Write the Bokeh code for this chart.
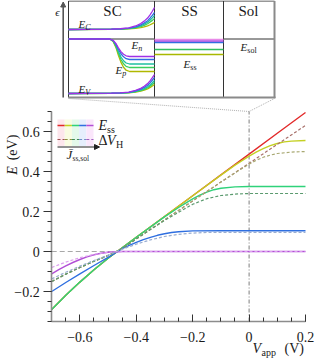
from bokeh.plotting import figure
from bokeh.models import Range1d, LinearAxis, FixedTicker, CustomJSTickFormatter, Arrow, NormalHead
from bokeh.core.properties import value
from bokeh.embed import file_html
from bokeh.resources import INLINE

# ---------------- main chart data ----------------
V_TICKS = [-0.6, -0.4, -0.2, 0.0, 0.2]
V_MINOR = [-0.7, -0.65, -0.6, -0.55, -0.5, -0.45, -0.4, -0.35, -0.3, -0.25, -0.2,
           -0.15, -0.1, -0.05, 0.0, 0.05, 0.1, 0.15, 0.2]
E_TICKS = [-0.2, 0.0, 0.2, 0.4, 0.6]
E_MINOR = [-0.35, -0.3, -0.25, -0.2, -0.15, -0.1, -0.05, 0.0, 0.05, 0.1, 0.15, 0.2,
           0.25, 0.3, 0.35, 0.4, 0.45, 0.5, 0.55, 0.6, 0.65, 0.7]

# solid: E_ss
red_v = [-0.70, -0.65, -0.60, -0.55, -0.50, -0.45, -0.40, -0.30, -0.20, -0.10, 0.00, 0.10, 0.20]
red_e = [-0.290, -0.219, -0.153, -0.091, -0.034, 0.019, 0.071, 0.175, 0.279, 0.383, 0.487, 0.591, 0.695]

yel_v = [-0.70, -0.65, -0.60, -0.55, -0.50, -0.45, -0.40, -0.30, -0.20, -0.10, -0.05, 0.00,
         0.025, 0.05, 0.075, 0.10, 0.125, 0.15, 0.20]
yel_e = [-0.290, -0.219, -0.153, -0.091, -0.034, 0.019, 0.071, 0.175, 0.279, 0.382, 0.432, 0.477,
         0.497, 0.514, 0.529, 0.540, 0.548, 0.552, 0.555]

grn_v = [-0.70, -0.65, -0.60, -0.55, -0.50, -0.45, -0.40, -0.30, -0.25, -0.225, -0.20, -0.175,
         -0.15, -0.125, -0.10, -0.05, 0.00, 0.20]
grn_e = [-0.290, -0.219, -0.153, -0.091, -0.034, 0.019, 0.071, 0.173, 0.220, 0.242, 0.263, 0.282,
         0.297, 0.309, 0.316, 0.323, 0.325, 0.325]

blu_v = [-0.70, -0.65, -0.60, -0.55, -0.50, -0.45, -0.425, -0.40, -0.375, -0.35, -0.325, -0.30,
         -0.275, -0.25, -0.20, -0.10, 0.20]
blu_e = [-0.200, -0.155, -0.112, -0.070, -0.029, 0.014, 0.031, 0.046, 0.059, 0.071, 0.081, 0.089,
         0.095, 0.099, 0.103, 0.104, 0.104]

mag_v = [-0.70, -0.675, -0.65, -0.625, -0.60, -0.575, -0.55, -0.525, -0.50, -0.45, 0.20]
mag_e = [-0.112, -0.091, -0.072, -0.055, -0.040, -0.027, -0.017, -0.009, -0.004, 0.0, 0.0]

# dashed: ΔV_H
redd_v = [-0.70, -0.65, -0.60, -0.55, -0.50, -0.45, -0.40, -0.30, -0.20, -0.10, 0.00, 0.10, 0.20]
redd_e = [-0.150, -0.113, -0.080, -0.049, -0.020, 0.015, 0.063, 0.158, 0.253, 0.347, 0.441, 0.536, 0.630]

yeld_v = [-0.70, -0.65, -0.60, -0.55, -0.50, -0.45, -0.40, -0.30, -0.20, -0.10, -0.05, 0.00,
          0.025, 0.05, 0.075, 0.10, 0.15, 0.20]
yeld_e = [-0.150, -0.113, -0.080, -0.049, -0.020, 0.015, 0.063, 0.158, 0.253, 0.347, 0.393, 0.437,
          0.456, 0.471, 0.482, 0.490, 0.497, 0.500]

grnd_v = [-0.70, -0.65, -0.60, -0.55, -0.50, -0.45, -0.40, -0.35, -0.30, -0.25, -0.20, -0.15,
          -0.10, -0.05, 0.00, 0.20]
grnd_e = [-0.150, -0.113, -0.080, -0.049, -0.020, 0.015, 0.063, 0.110, 0.155, 0.196, 0.236, 0.264,
          0.280, 0.287, 0.290, 0.290]

blud_v = [-0.70, -0.65, -0.60, -0.55, -0.50, -0.45, -0.40, -0.35, -0.30, -0.25, -0.20, -0.15, -0.10, 0.20]
blud_e = [-0.137, -0.104, -0.073, -0.045, -0.018, 0.011, 0.037, 0.058, 0.075, 0.086, 0.092, 0.095, 0.096, 0.096]

magd_v = [-0.70, -0.65, -0.60, -0.55, -0.50, -0.45, 0.20]
magd_e = [-0.080, -0.053, -0.031, -0.014, -0.004, 0.0, 0.0]

SOLID_COLORS = ["#e22a2a", "#c4d022", "#2fd27a", "#2f6fe0", "#b24fd6"]
DASH_COLORS = ["#a8706a", "#a8a872", "#5a9a6e", "#9aaed2", "#dca0ee"]

# ---------------- inset (band diagram schematic) data ----------------
BEND_F = [0.0, 0.50, 0.60, 0.70, 0.78, 0.84, 0.88, 0.92, 0.95, 0.975, 1.0]
BEND_P = [0.0, 0.02, 0.035, 0.075, 0.16, 0.27, 0.38, 0.52, 0.68, 0.83, 1.0]
QF_F = [0.0, 0.48, 0.52, 0.55, 0.58, 0.61, 0.64, 0.67, 0.71, 1.0]
QF_P = [0.0, 0.0, 0.08, 0.25, 0.50, 0.72, 0.87, 0.96, 1.0, 1.0]
INSET_COLORS = ["#b0b800", "#3ccf5c", "#1fc0a0", "#2f6fe0", "#a030e6"]
EC_SHIFT = [7, 11, 14, 17, 22]
EV_SHIFT = [9, 11, 13, 16, 19]
EP_LEVEL = [71, 67, 63.5, 59, 56]
SS_LEVEL = [54, 49, 42, 40.5, 39]
SS_COLORS = ["#a8b800", "#30c060", "#3070e0", "#a040e0", "#e88ae8"]

SERIF = "Liberation Serif"

# ---------------- figure / coordinate systems ----------------
W, H = 316, 361
X0, X1 = -0.88156, 0.23901
Y0, Y1 = -0.55, 1.255

p = figure(width=W, height=H, x_range=Range1d(X0, X1), y_range=Range1d(Y0, Y1),
           output_backend="svg", toolbar_location=None,
           x_axis_location=None, y_axis_location=None, min_border=0,
           outline_line_color=None, background_fill_color="white",
           border_fill_color="white")
for g in p.grid:
    g.visible = False
# pixel-like helper coordinates for the schematic parts (inset, legend, titles)
p.extra_x_ranges = {"px": Range1d(0, W)}
p.extra_y_ranges = {"py": Range1d(H, 0)}

fmt = CustomJSTickFormatter(code="""
if (Math.abs(tick) < 1e-9) { return "0"; }
var s = Math.abs(tick).toFixed(1);
return (tick < 0 ? "\u2212" : "") + s;
""")

yax = LinearAxis(fixed_location=-0.7, bounds=(-0.35, 0.7),
                 ticker=FixedTicker(ticks=E_TICKS, minor_ticks=E_MINOR), formatter=fmt)
xax = LinearAxis(fixed_location=-0.35, bounds=(-0.7, 0.2),
                 ticker=FixedTicker(ticks=V_TICKS, minor_ticks=V_MINOR), formatter=fmt)
for ax in (yax, xax):
    ax.axis_line_color = "#8c8c8c"
    ax.axis_line_width = 1.6
    ax.major_tick_line_color = "#333333"
    ax.minor_tick_line_color = "#333333"
    ax.major_label_text_font = SERIF
    ax.major_label_text_font_size = "14px"
    ax.major_label_text_color = "#1a1a1a"
yax.major_tick_out = 8
yax.major_tick_in = 0
yax.minor_tick_out = 4
yax.minor_tick_in = 0
yax.major_label_standoff = 4
xax.major_tick_out = 0
xax.major_tick_in = 7
xax.minor_tick_out = 0
xax.minor_tick_in = 4
xax.major_label_standoff = 10
p.add_layout(yax, "left")
p.add_layout(xax, "below")

# reference lines
p.line([-0.7, 0.2], [0, 0], line_color="#a8a8a8", line_width=1.2, line_dash="5 3")
p.line([0, 0], [-0.35, 0.7], line_color="#6e6e6e", line_width=0.9, line_dash="4 2 1 2")

# curves
solids = [(red_v, red_e), (yel_v, yel_e), (grn_v, grn_e), (blu_v, blu_e), (mag_v, mag_e)]
dashes = [(redd_v, redd_e), (yeld_v, yeld_e), (grnd_v, grnd_e), (blud_v, blud_e), (magd_v, magd_e)]
for (xv, yv), c in zip(solids, SOLID_COLORS):
    p.line(xv, yv, line_color=c, line_width=1.4)
for (xv, yv), c in zip(dashes, DASH_COLORS):
    p.line(xv, yv, line_color=c, line_width=1.2, line_dash="3 2")


def txt(xs, ys, texts, size, style="normal", align="left", baseline="middle",
        angle=0.0, color="#1a1a1a", xo=0, yo=0):
    p.text(x=xs, y=ys, text=texts, x_range_name="px", y_range_name="py",
           text_font=value(SERIF), text_font_size=value(f"{size}px"),
           text_font_style=style, text_align=align, text_baseline=baseline,
           angle=angle, text_color=color, x_offset=xo, y_offset=yo)


def esub(x, y, main, sub, size, ssize, gap, main_style="italic", sub_style="normal"):
    if main:
        txt([x], [y], [main], size, style=main_style)
    txt([x], [y], [sub], ssize, style=sub_style, xo=gap, yo=0.32 * size)


# axis titles
txt([12], [170], ["E"], 14, style="italic", align="center", angle=1.5708)
txt([12], [147], ["(eV)"], 14, align="center", angle=1.5708)
esub(252, 348, "V", "app", 14, 10, 9)
txt([284], [348], ["(V)"], 14)

# legend block
LEG_X = [57, 64.2, 71.4, 78.6, 85.8, 93]
LEG_BG = ["#fde6ec", "#f9fce2", "#e4f9ea", "#e6eefc", "#fae6fb"]
p.quad(left=LEG_X[:-1], right=LEG_X[1:], top=[119] * 5, bottom=[145.5] * 5,
       fill_color=LEG_BG, line_color=None, x_range_name="px", y_range_name="py")
p.segment(x0=LEG_X[:-1], x1=LEG_X[1:], y0=[125] * 5, y1=[125] * 5, line_color=SOLID_COLORS,
          line_width=1.4, x_range_name="px", y_range_name="py")
p.segment(x0=LEG_X[:-1], x1=LEG_X[1:], y0=[139] * 5, y1=[139] * 5,
          line_color=["#a05050", "#909040", "#3f8a55", "#6f8fc6", "#a060c0"],
          line_width=1.1, line_dash="3 2", x_range_name="px", y_range_name="py")
p.add_layout(Arrow(x_start=57, y_start=146.5, x_end=99, y_end=146.5,
                   x_range_name="px", y_range_name="py", line_color="#222222", line_width=1,
                   end=NormalHead(size=5, fill_color="#222222", line_color="#222222")))
esub(98, 125, "E", "ss", 14, 10, 8.5)
txt([98], [139.5], ["\u0394"], 14)
txt([98], [139.5], ["V"], 14, style="italic", xo=8.5)
esub(98, 139.5, "", "H", 14, 10, 17.5)
esub(66, 154, "J\u0304", "ss,sol", 13, 7.5, 6)

# ---------------- inset ----------------
SC0, SC1, SS1, XE = 68, 154, 223, 274
TOP, BOT, MID = 0.5, 97, 38.5
seg = dict(x_range_name="px", y_range_name="py")
p.segment(x0=[SC0, SC0, SC1, SS1, SC0, SS1], x1=[XE, SC0, SC1, SS1, SC1, XE],
          y0=[TOP, TOP, TOP, TOP, MID, MID], y1=[TOP, BOT, BOT, BOT, MID, MID],
          line_color="#333333", line_width=1, **seg)
p.segment(x0=[XE, SC0], x1=[XE, XE + 1], y0=[TOP, BOT], y1=[BOT + 0.5, BOT],
          line_color="#8a8a8a", line_width=2, **seg)

for c, dc, dv, ep in zip(INSET_COLORS, EC_SHIFT, EV_SHIFT, EP_LEVEL):
    xs = [SC0 + f * (SC1 - SC0) for f in BEND_F]
    p.line(xs, [29 - dc * b for b in BEND_P], line_color=c, line_width=1.3, **seg)
    p.line(xs, [93 - dv * b for b in BEND_P], line_color=c, line_width=1.3, **seg)
    xq = [SC0 + f * (SC1 - SC0) for f in QF_F]
    p.line(xq, [MID + (ep - MID) * q for q in QF_P], line_color=c, line_width=1.3, **seg)
for lev, c in zip(SS_LEVEL, SS_COLORS):
    p.line([SC1, SS1], [lev, lev], line_color=c, line_width=1.3, **seg)

p.add_layout(Arrow(x_start=62.7, y_start=BOT, x_end=62.7, y_end=1.5,
                   x_range_name="px", y_range_name="py", line_color="#555555", line_width=1.6,
                   end=NormalHead(size=5, fill_color="#555555", line_color="#555555")))
txt([57], [11], ["\u03f5"], 11, style="italic", align="center")

txt([112], [10.5], ["SC"], 15, align="center")
txt([189], [10.5], ["SS"], 15, align="center")
txt([248], [10.5], ["Sol"], 15, align="center")
esub(78, 23.5, "E", "C", 11, 8, 6.8, sub_style="italic")
esub(131, 44, "E", "n", 11, 8, 6.8, sub_style="italic")
esub(115, 69, "E", "p", 11, 8, 6.8, sub_style="italic")
esub(78, 88, "E", "V", 11, 8, 6.8, sub_style="italic")
esub(183, 63, "E", "ss", 11, 8, 6.8)
esub(240, 46.5, "E", "sol", 11, 8, 6.8)

# dotted connectors from inset corners to (0, 0.7)
cx = (0 - X0) / (X1 - X0) * W
cy = (Y1 - 0.7) / (Y1 - Y0) * H
p.segment(x0=[SC0, XE], y0=[BOT + 1, BOT + 1], x1=[cx, cx], y1=[cy, cy],
          line_color="#b0b0b0", line_width=1, line_dash="1 1", **seg)

open("out.html", "w").write(file_html(p, INLINE))
